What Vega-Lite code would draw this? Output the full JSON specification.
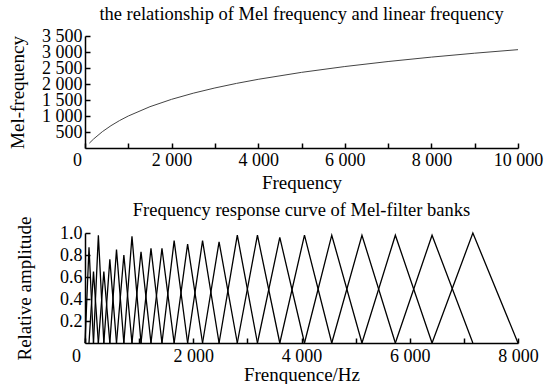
{
  "$schema": "https://vega.github.io/schema/vega-lite/v6.json",
  "background": "white",
  "padding": {"left": 8, "top": 4, "right": 4, "bottom": 0},
  "config": {
    "view": {"stroke": null},
    "font": "Liberation Serif",
    "axis": {"grid": false, "domainColor": "black", "domainWidth": 1.5, "tickColor": "black", "tickWidth": 1.5, "tickSize": -5, "labelFont": "Liberation Serif", "labelFontSize": 18, "labelColor": "black", "labelOverlap": false, "labelBound": false, "titleFont": "Liberation Serif", "titleFontSize": 19, "titleFontWeight": "normal", "titleColor": "black", "labelFlush": false, "labelPadding": 8},
    "title": {"font": "Liberation Serif", "fontSize": 18.5, "fontWeight": "normal", "color": "black"},
    "concat": {"spacing": 9}
  },
  "datasets": {
    "mel": [
      {"freq": 100, "mel": 150.5}, {"freq": 200, "mel": 283.2}, {"freq": 400, "mel": 509.4}, {"freq": 600, "mel": 697.7},
      {"freq": 800, "mel": 858.9}, {"freq": 1000, "mel": 1000}, {"freq": 1500, "mel": 1290.6}, {"freq": 2000, "mel": 1521.4},
      {"freq": 2500, "mel": 1712.8}, {"freq": 3000, "mel": 1876.4}, {"freq": 3500, "mel": 2019.3}, {"freq": 4000, "mel": 2146.1},
      {"freq": 5000, "mel": 2363.5}, {"freq": 6000, "mel": 2545.6}, {"freq": 7000, "mel": 2702.4}, {"freq": 8000, "mel": 2840.1},
      {"freq": 9000, "mel": 2962.6}, {"freq": 10000, "mel": 3073.2}
    ],
    "filters": [
      {"f": 1, "x": 0, "y": 0}, {"f": 1, "x": 74, "y": 0.87}, {"f": 1, "x": 157, "y": 0},
      {"f": 2, "x": 74, "y": 0}, {"f": 2, "x": 157, "y": 0.65}, {"f": 2, "x": 247, "y": 0},
      {"f": 3, "x": 157, "y": 0}, {"f": 3, "x": 247, "y": 0.98}, {"f": 3, "x": 348, "y": 0},
      {"f": 4, "x": 247, "y": 0}, {"f": 4, "x": 348, "y": 0.65}, {"f": 4, "x": 459, "y": 0},
      {"f": 5, "x": 348, "y": 0}, {"f": 5, "x": 459, "y": 0.76}, {"f": 5, "x": 582, "y": 0},
      {"f": 6, "x": 459, "y": 0}, {"f": 6, "x": 582, "y": 0.85}, {"f": 6, "x": 718, "y": 0},
      {"f": 7, "x": 582, "y": 0}, {"f": 7, "x": 718, "y": 0.8}, {"f": 7, "x": 868, "y": 0},
      {"f": 8, "x": 718, "y": 0}, {"f": 8, "x": 868, "y": 0.97}, {"f": 8, "x": 1035, "y": 0},
      {"f": 9, "x": 868, "y": 0}, {"f": 9, "x": 1035, "y": 0.83}, {"f": 9, "x": 1219, "y": 0},
      {"f": 10, "x": 1035, "y": 0}, {"f": 10, "x": 1219, "y": 0.86}, {"f": 10, "x": 1422, "y": 0},
      {"f": 11, "x": 1219, "y": 0}, {"f": 11, "x": 1422, "y": 0.86}, {"f": 11, "x": 1647, "y": 0},
      {"f": 12, "x": 1422, "y": 0}, {"f": 12, "x": 1647, "y": 0.93}, {"f": 12, "x": 1896, "y": 0},
      {"f": 13, "x": 1647, "y": 0}, {"f": 13, "x": 1896, "y": 0.9}, {"f": 13, "x": 2172, "y": 0},
      {"f": 14, "x": 1896, "y": 0}, {"f": 14, "x": 2172, "y": 0.93}, {"f": 14, "x": 2477, "y": 0},
      {"f": 15, "x": 2172, "y": 0}, {"f": 15, "x": 2477, "y": 0.92}, {"f": 15, "x": 2814, "y": 0},
      {"f": 16, "x": 2477, "y": 0}, {"f": 16, "x": 2814, "y": 0.98}, {"f": 16, "x": 3186, "y": 0},
      {"f": 17, "x": 2814, "y": 0}, {"f": 17, "x": 3186, "y": 0.98}, {"f": 17, "x": 3599, "y": 0},
      {"f": 18, "x": 3186, "y": 0}, {"f": 18, "x": 3599, "y": 0.96}, {"f": 18, "x": 4055, "y": 0},
      {"f": 19, "x": 3599, "y": 0}, {"f": 19, "x": 4055, "y": 0.98}, {"f": 19, "x": 4559, "y": 0},
      {"f": 20, "x": 4055, "y": 0}, {"f": 20, "x": 4559, "y": 0.98}, {"f": 20, "x": 5117, "y": 0},
      {"f": 21, "x": 4559, "y": 0}, {"f": 21, "x": 5117, "y": 0.98}, {"f": 21, "x": 5734, "y": 0},
      {"f": 22, "x": 5117, "y": 0}, {"f": 22, "x": 5734, "y": 0.98}, {"f": 22, "x": 6412, "y": 0},
      {"f": 23, "x": 5734, "y": 0}, {"f": 23, "x": 6412, "y": 0.98}, {"f": 23, "x": 7166, "y": 0},
      {"f": 24, "x": 6412, "y": 0}, {"f": 24, "x": 7166, "y": 1.0}, {"f": 24, "x": 8000, "y": 0}
    ]
  },
  "vconcat": [
    {
      "title": {"text": "the relationship of Mel frequency and linear frequency", "offset": 4},
      "width": 433,
      "height": 112,
      "data": {"name": "mel"},
      "mark": {"type": "line", "color": "#444444", "strokeWidth": 1},
      "encoding": {
        "x": {"field": "freq", "type": "quantitative", "scale": {"domain": [0, 10000], "nice": false},
              "axis": {"title": "Frequency", "titlePadding": 4, "values": [0, 1000, 2000, 3000, 4000, 5000, 6000, 7000, 8000, 9000, 10000],
                       "labelOffset": {"condition": {"test": "datum.value == 0", "value": -8}, "value": 0},
                       "labelExpr": "datum.value % 2000 == 0 ? replace(format(datum.value, ','), ',', ' ') : ''"}},
        "y": {"field": "mel", "type": "quantitative", "scale": {"domain": [0, 3500], "nice": false},
              "axis": {"title": "Mel-frequency", "titlePadding": 14, "values": [500, 1000, 1500, 2000, 2500, 3000, 3500],
                       "labelExpr": "replace(format(datum.value, ','), ',', ' ')"}}
      }
    },
    {
      "title": {"text": "Frequency response curve of Mel-filter banks", "offset": -4},
      "width": 433,
      "height": 110,
      "data": {"name": "filters"},
      "mark": {"type": "line", "color": "black", "strokeWidth": 1.3},
      "encoding": {
        "x": {"field": "x", "type": "quantitative", "scale": {"domain": [0, 8000], "nice": false},
              "axis": {"title": "Frenquence/Hz", "titlePadding": 0, "labelPadding": 9, "values": [0, 1000, 2000, 3000, 4000, 5000, 6000, 7000, 8000],
                       "labelOffset": {"condition": {"test": "datum.value == 0", "value": -9}, "value": 0},
                       "labelExpr": "datum.value % 2000 == 0 ? replace(format(datum.value, ','), ',', ' ') : ''"}},
        "y": {"field": "y", "type": "quantitative", "scale": {"domain": [0, 1], "nice": false},
              "axis": {"title": "Relative amplitude", "titlePadding": 25, "values": [0.2, 0.4, 0.6, 0.8, 1.0], "format": ".1f"}},
        "detail": {"field": "f", "type": "nominal"}
      }
    }
  ]
}
